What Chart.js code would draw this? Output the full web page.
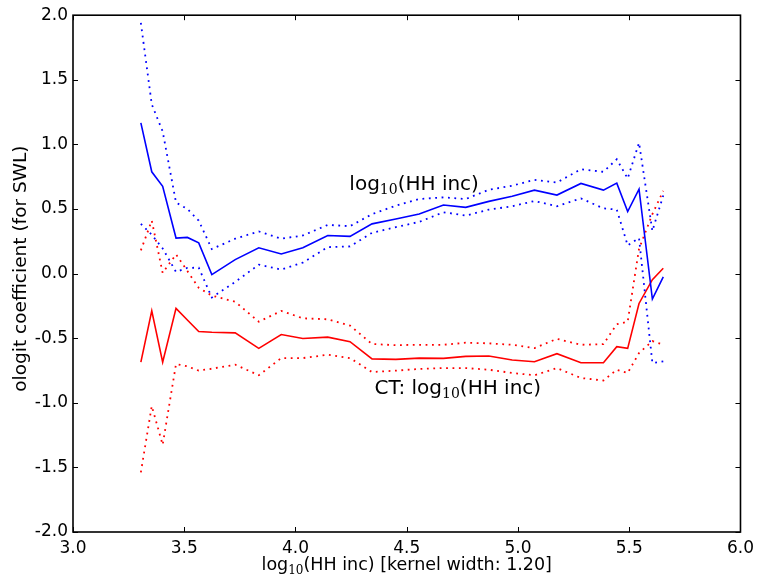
<!DOCTYPE html>
<html>
<head>
<meta charset="utf-8">
<script src="https://cdn.jsdelivr.net/npm/chart.js@4/dist/chart.umd.min.js"></script>
<style>
  html, body { margin: 0; padding: 0; background: #fff; }
  #wrap { width: 760px; height: 586px; }
</style>
</head>
<body>
<div id="wrap"><canvas id="chart" width="760" height="586"></canvas></div>
<script>
// kernel-smoothed ologit coefficients along log10 household income
const incomeGrid = [3.305, 3.354, 3.403, 3.463, 3.514, 3.565, 3.624, 3.729, 3.835, 3.936,
  4.033, 4.145, 4.245, 4.344, 4.451, 4.556, 4.665, 4.765, 4.869, 4.974,
  5.074, 5.175, 5.283, 5.384, 5.444, 5.493, 5.544, 5.604, 5.653];

const incCoef = [1.167, 0.788, 0.675, 0.275, 0.28, 0.238, -0.008, 0.108, 0.2, 0.152,
  0.2, 0.295, 0.288, 0.385, 0.423, 0.462, 0.531, 0.513, 0.559, 0.598,
  0.646, 0.608, 0.698, 0.646, 0.70, 0.48, 0.654, -0.197, -0.025];
const incUpper = [1.94, 1.31, 1.10, 0.55, 0.50, 0.41, 0.19, 0.27, 0.326, 0.27,
  0.295, 0.377, 0.367, 0.46, 0.526, 0.577, 0.59, 0.577, 0.649, 0.68,
  0.726, 0.705, 0.808, 0.788, 0.885, 0.736, 1.013, 0.33, 0.605];
const incLower = [0.385, 0.30, 0.195, 0.013, 0.044, 0.046, -0.185, -0.064, 0.069, 0.031,
  0.085, 0.205, 0.21, 0.316, 0.36, 0.40, 0.475, 0.449, 0.495, 0.521,
  0.562, 0.521, 0.582, 0.505, 0.495, 0.218, 0.275, -0.692, -0.68];

const ctCoef = [-0.685, -0.289, -0.685, -0.269, -0.359, -0.448, -0.454, -0.459, -0.579, -0.472,
  -0.502, -0.492, -0.527, -0.66, -0.664, -0.654, -0.656, -0.641, -0.638, -0.669,
  -0.682, -0.62, -0.69, -0.69, -0.566, -0.579, -0.231, -0.047, 0.041];
const ctUpper = [0.18, 0.41, 0.005, 0.149, 0.02, -0.11, -0.17, -0.218, -0.372, -0.289,
  -0.346, -0.354, -0.402, -0.545, -0.554, -0.551, -0.551, -0.535, -0.54, -0.551,
  -0.577, -0.505, -0.551, -0.546, -0.392, -0.372, 0.192, 0.46, 0.641];
const ctLower = [-1.538, -1.025, -1.325, -0.70, -0.718, -0.751, -0.736, -0.705, -0.787, -0.654,
  -0.654, -0.628, -0.654, -0.762, -0.751, -0.738, -0.731, -0.731, -0.744, -0.769,
  -0.787, -0.731, -0.808, -0.828, -0.744, -0.769, -0.615, -0.522, -0.551];

const xTicks = [3.0, 3.5, 4.0, 4.5, 5.0, 5.5, 6.0];
const yTicks = [-2.0, -1.5, -1.0, -0.5, 0.0, 0.5, 1.0, 1.5, 2.0];

// text labels placed in data coordinates: [plain, subscript, plain]
const curveLabels = [
  { x: 4.242, y: 0.644, parts: ["log", "10", "(HH inc)"] },
  { x: 4.355, y: -0.935, parts: ["CT: log", "10", "(HH inc)"] },
];

const SANS = "'DejaVu Sans', sans-serif";
const SERIF = "'DejaVu Serif', serif";

const toPoints = (ys) => incomeGrid.map((x, i) => ({ x, y: ys[i] }));

const line = (ys, color, dotted) => ({
  data: toPoints(ys),
  borderColor: color,
  borderWidth: dotted ? 1.8 : 1.6,
  borderDash: dotted ? [1.8, 4.6] : [],
  pointRadius: 0,
  tension: 0,
  fill: false,
});

// draws "log" + subscript "10" + rest, left aligned at baseline (x, y)
function drawSubText(ctx, parts, x, y, size) {
  const subSize = Math.round(size * 0.7);
  ctx.textBaseline = "alphabetic";
  ctx.textAlign = "left";
  let cx = x;
  parts.forEach((txt, i) => {
    if (i === 1) {
      ctx.font = subSize + "px " + SERIF;
      ctx.fillText(txt, cx, y + size * 0.2);
    } else {
      ctx.font = size + "px " + SANS;
      ctx.fillText(txt, cx, y);
    }
    cx += ctx.measureText(txt).width;
  });
  return cx - x;
}

function measureSubText(ctx, parts, size) {
  let w = 0;
  parts.forEach((txt, i) => {
    ctx.font = (i === 1 ? Math.round(size * 0.7) + "px " + SERIF : size + "px " + SANS);
    w += ctx.measureText(txt).width;
  });
  return w;
}

const framePlugin = {
  id: "frame",
  afterDatasetsDraw(chart) {
    const { ctx, chartArea: a, scales } = chart;
    ctx.save();
    ctx.strokeStyle = "#000";
    ctx.lineWidth = 1;
    // inward ticks on all four sides
    ctx.beginPath();
    xTicks.forEach((v) => {
      const px = Math.round(scales.x.getPixelForValue(v)) + 0.5;
      ctx.moveTo(px, a.bottom); ctx.lineTo(px, a.bottom - 5);
      ctx.moveTo(px, a.top); ctx.lineTo(px, a.top + 5);
    });
    yTicks.forEach((v) => {
      const py = Math.round(scales.y.getPixelForValue(v)) + 0.5;
      ctx.moveTo(a.left, py); ctx.lineTo(a.left + 5, py);
      ctx.moveTo(a.right, py); ctx.lineTo(a.right - 5, py);
    });
    ctx.stroke();
    ctx.lineWidth = 1.6;
    ctx.strokeRect(a.left, a.top, a.right - a.left, a.bottom - a.top);

    ctx.fillStyle = "#000";
    curveLabels.forEach((lab) => {
      drawSubText(ctx, lab.parts, scales.x.getPixelForValue(lab.x), scales.y.getPixelForValue(lab.y), 20);
    });

    // x axis title
    const xTitle = ["log", "10", "(HH inc) [kernel width: 1.20]"];
    const w = measureSubText(ctx, xTitle, 17.5);
    drawSubText(ctx, xTitle, (a.left + a.right) / 2 - w / 2, 570, 17.5);

    // y axis title
    ctx.translate(26, (a.top + a.bottom) / 2 - 5);
    ctx.rotate(-Math.PI / 2);
    ctx.font = "18.5px " + SANS;
    ctx.textAlign = "center";
    ctx.textBaseline = "alphabetic";
    ctx.fillText("ologit coefficient (for SWL)", 0, 0);
    ctx.restore();
  },
};

new Chart(document.getElementById("chart"), {
  type: "line",
  data: {
    datasets: [
      line(incCoef, "#0000ff", false),
      line(incUpper, "#0000ff", true),
      line(incLower, "#0000ff", true),
      line(ctCoef, "#ff0000", false),
      line(ctUpper, "#ff0000", true),
      line(ctLower, "#ff0000", true),
    ],
  },
  options: {
    responsive: false,
    animation: false,
    layout: { padding: { top: 13, right: 18, left: 0, bottom: 0 } },
    plugins: { legend: { display: false }, tooltip: { enabled: false } },
    scales: {
      x: {
        type: "linear",
        min: 3,
        max: 6,
        afterFit: (s) => { s.height = 54; },
        afterBuildTicks: (s) => { s.ticks = xTicks.map((value) => ({ value })); },
        grid: { display: false, drawTicks: false },
        border: { display: false },
        ticks: {
          color: "#000",
          padding: 6,
          autoSkip: false,
          maxRotation: 0,
          font: { family: SANS, size: 17 },
          callback: (v) => v.toFixed(1),
        },
      },
      y: {
        type: "linear",
        min: -2,
        max: 2,
        afterFit: (s) => { s.width = 73; },
        afterBuildTicks: (s) => { s.ticks = yTicks.map((value) => ({ value })); },
        grid: { display: false, drawTicks: false },
        border: { display: false },
        ticks: {
          color: "#000",
          padding: 5,
          autoSkip: false,
          font: { family: SANS, size: 17 },
          callback: (v) => v.toFixed(1),
        },
      },
    },
  },
  plugins: [framePlugin],
});
</script>
</body>
</html>
